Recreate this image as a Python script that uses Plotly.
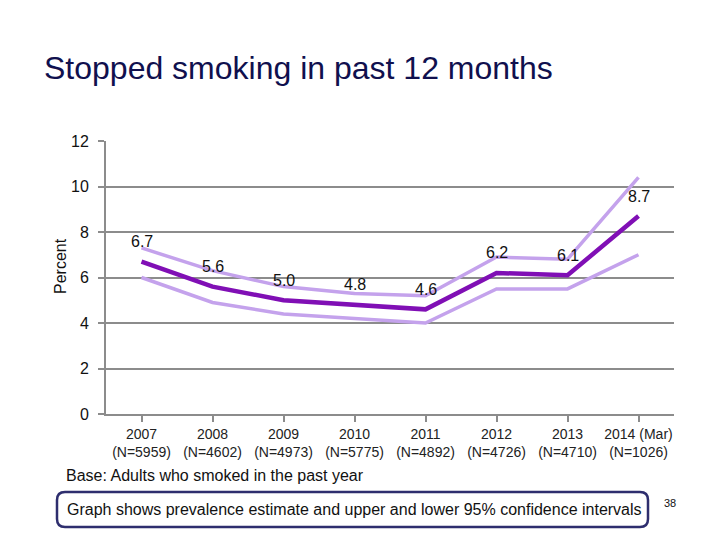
import plotly.graph_objects as go

years = ["2007", "2008", "2009", "2010", "2011", "2012", "2013", "2014 (Mar)"]
sample_sizes = ["(N=5959)", "(N=4602)", "(N=4973)", "(N=5775)", "(N=4892)", "(N=4726)", "(N=4710)", "(N=1026)"]
estimate = [6.7, 5.6, 5.0, 4.8, 4.6, 6.2, 6.1, 8.7]
upper_ci = [7.3, 6.3, 5.6, 5.3, 5.2, 6.9, 6.8, 10.4]
lower_ci = [6.0, 4.9, 4.4, 4.2, 4.0, 5.5, 5.5, 7.0]
y_ticks = [0, 2, 4, 6, 8, 10, 12]

FONT = "Arial, Liberation Sans, sans-serif"
cats = list(range(len(years)))
tick_text = [f"{y}<br>{n}" for y, n in zip(years, sample_sizes)]

fig = go.Figure()
light = "#C4A2EC"
fig.add_trace(go.Scatter(x=cats, y=upper_ci, mode="lines", line=dict(color=light, width=3.5), hoverinfo="skip"))
fig.add_trace(go.Scatter(x=cats, y=lower_ci, mode="lines", line=dict(color=light, width=3.5), hoverinfo="skip"))
fig.add_trace(go.Scatter(x=cats, y=estimate, mode="lines", line=dict(color="#800FB5", width=4.5)))

for xi, v in zip(cats, estimate):
    fig.add_annotation(x=xi, y=v, text=f"{v:.1f}", showarrow=False, yshift=20,
                       font=dict(family=FONT, size=16, color="#111111"))

# page body has an 8px margin; compensate
OFF = 8
W, H = 720, 540
pw, ph = 568, 273
L, T = 106 - OFF, 141 - OFF
R, B = W - L - pw, H - T - ph

def px(x):
    return (x - OFF - L) / pw

def py(y):
    return (T + ph - (y - OFF)) / ph

# rounded box
x0, x1, y0, y1 = px(57), px(648), py(527), py(492)
rx, ry = 8 / pw, 8 / ph
path = (f"M {x0+rx},{y0} L {x1-rx},{y0} Q {x1},{y0} {x1},{y0+ry} "
        f"L {x1},{y1-ry} Q {x1},{y1} {x1-rx},{y1} L {x0+rx},{y1} "
        f"Q {x0},{y1} {x0},{y1-ry} L {x0},{y0+ry} Q {x0},{y0} {x0+rx},{y0} Z")
fig.add_shape(type="path", path=path, xref="paper", yref="paper",
              line=dict(color="#2E2E6E", width=2.5), fillcolor="white")

fig.add_annotation(xref="paper", yref="paper", x=px(64), y=py(475), xanchor="left", yanchor="middle",
                   text="Base: Adults who smoked in the past year", showarrow=False,
                   font=dict(family=FONT, size=16, color="#111111"))
fig.add_annotation(xref="paper", yref="paper", x=px(65), y=py(509), xanchor="left", yanchor="middle",
                   text="Graph shows prevalence estimate and upper and lower 95% confidence intervals",
                   showarrow=False, font=dict(family=FONT, size=16, color="#111111"))
fig.add_annotation(xref="paper", yref="paper", x=px(670), y=py(503), xanchor="center", yanchor="middle",
                   text="38", showarrow=False, font=dict(family=FONT, size=11, color="#111111"))
fig.add_annotation(xref="paper", yref="paper", x=px(60), y=py(266), xanchor="center", yanchor="middle",
                   text="Percent", textangle=-90, showarrow=False,
                   font=dict(family=FONT, size=16, color="#111111"))

fig.update_layout(
    width=W, height=H,
    margin=dict(l=L, r=R, t=T, b=B),
    paper_bgcolor="white", plot_bgcolor="white",
    showlegend=False,
    title=dict(text="Stopped smoking in past 12 months", x=(44 - OFF) / W, xanchor="left",
               y=1 - (68 - OFF) / H, yanchor="middle",
               font=dict(family=FONT, size=32, color="#10104E")),
)
fig.update_xaxes(range=[-0.5, len(years) - 0.5], tickmode="array", tickvals=cats, ticktext=tick_text,
                 tickson="boundaries", ticks="outside", ticklen=6, tickcolor="#8C8C8C", tickwidth=2,
                 showline=True, linecolor="#8C8C8C", linewidth=2, showgrid=False, zeroline=False,
                 tickfont=dict(family=FONT, size=14, color="#222222"), fixedrange=True)
fig.update_yaxes(range=[0, 12], tickmode="array", tickvals=y_ticks,
                 ticks="outside", ticklen=6, tickcolor="#8C8C8C", tickwidth=2,
                 showline=True, linecolor="#8C8C8C", linewidth=2,
                 showgrid=True, gridcolor="#8C8C8C", gridwidth=2, zeroline=False,
                 ticklabelstandoff=6,
                 tickfont=dict(family=FONT, size=16, color="#111111"), fixedrange=True)

fig.write_html("out.html")
